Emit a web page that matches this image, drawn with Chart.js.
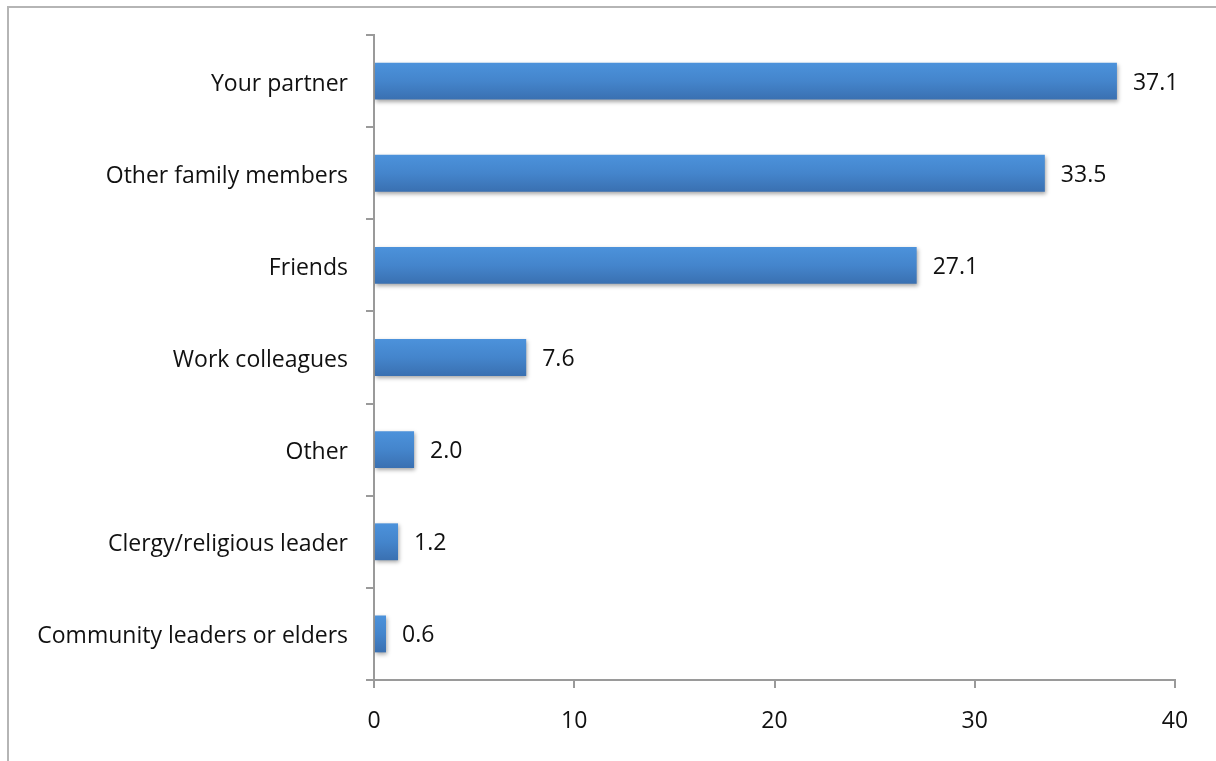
<!DOCTYPE html>
<html>
<head>
<meta charset="utf-8">
<script src="https://cdn.jsdelivr.net/npm/chart.js@4"></script>
<style>
  html, body { margin: 0; padding: 0; background: #fff; overflow: hidden; }
  #frame {
    position: absolute; left: 7px; top: 6px; width: 1300px; height: 800px;
    border-top: 2px solid #b5b5b5; border-left: 2px solid #b5b5b5;
  }
  #wrap { position: absolute; left: 0; top: 0; width: 1216px; height: 761px; }
</style>
</head>
<body>
<div id="frame"></div>
<div id="wrap"><canvas id="myChart" width="1216" height="761"></canvas></div>
<script>
// Who people talk to, in percent
const categories = [
  'Your partner',
  'Other family members',
  'Friends',
  'Work colleagues',
  'Other',
  'Clergy/religious leader',
  'Community leaders or elders'
];
const values = [37.1, 33.5, 27.1, 7.6, 2.0, 1.2, 0.6];
const xTicks = [0, 10, 20, 30, 40];

const fontFamily = "'Open Sans', Lato, sans-serif";
const fontSize = 23;

// bar fill: vertical blue gradient with a soft drop shadow
const barStyle = {
  id: 'barStyle',
  beforeDatasetsDraw(chart) {
    const c = chart.ctx;
    chart.getDatasetMeta(0).data.forEach(bar => {
      const top = bar.y - bar.height / 2;
      const g = c.createLinearGradient(0, top, 0, top + bar.height);
      g.addColorStop(0, '#4c92db');
      g.addColorStop(0.5, '#4485cc');
      g.addColorStop(1, '#3a70b1');
      bar.options.backgroundColor = g;
    });
    c.save();
    c.shadowColor = 'rgba(0,0,0,0.35)';
    c.shadowBlur = 4;
    c.shadowOffsetX = 1;
    c.shadowOffsetY = 2;
  },
  afterDatasetsDraw(chart) {
    const c = chart.ctx;
    c.restore();
    // value labels next to each bar
    c.save();
    c.font = fontSize + 'px ' + fontFamily;
    c.fillStyle = '#111';
    c.textAlign = 'left';
    c.textBaseline = 'middle';
    chart.getDatasetMeta(0).data.forEach((bar, i) => {
      c.fillText(values[i].toFixed(1), bar.x + 16, bar.y + 2);
    });
    c.restore();
  }
};

const ctx = document.getElementById('myChart').getContext('2d');
const barChart = new Chart(ctx, {
  type: 'bar',
  data: {
    labels: categories,
    datasets: [{
      data: values,
      // scriptable so every bar keeps its own options object
      backgroundColor: () => '#4485cc',
      borderWidth: 0,
      barPercentage: 0.4,
      categoryPercentage: 1
    }]
  },
  options: {
    indexAxis: 'y',
    responsive: false,
    animation: false,
    layout: { padding: { left: 0, right: 41, top: 35, bottom: 0 } },
    plugins: {
      legend: { display: false },
      tooltip: { enabled: false }
    },
    scales: {
      x: {
        min: 0,
        max: 40,
        afterBuildTicks: s => { s.ticks = xTicks.map(v => ({ value: v })); },
        afterFit: s => { s.height = 81; },
        border: { color: '#9a9a9a', width: 2 },
        grid: { drawOnChartArea: false, tickLength: 8, color: '#9a9a9a', lineWidth: 2 },
        ticks: { color: '#111', padding: 20, font: { family: fontFamily, size: fontSize } }
      },
      y: {
        afterFit: s => { s.width = 374; },
        border: { color: '#9a9a9a', width: 2 },
        grid: { offset: true, drawOnChartArea: false, tickLength: 8, color: '#9a9a9a', lineWidth: 2 },
        ticks: { color: '#111', padding: 18, labelOffset: 3, font: { family: fontFamily, size: fontSize } }
      }
    }
  },
  plugins: [barStyle]
});
</script>
</body>
</html>
